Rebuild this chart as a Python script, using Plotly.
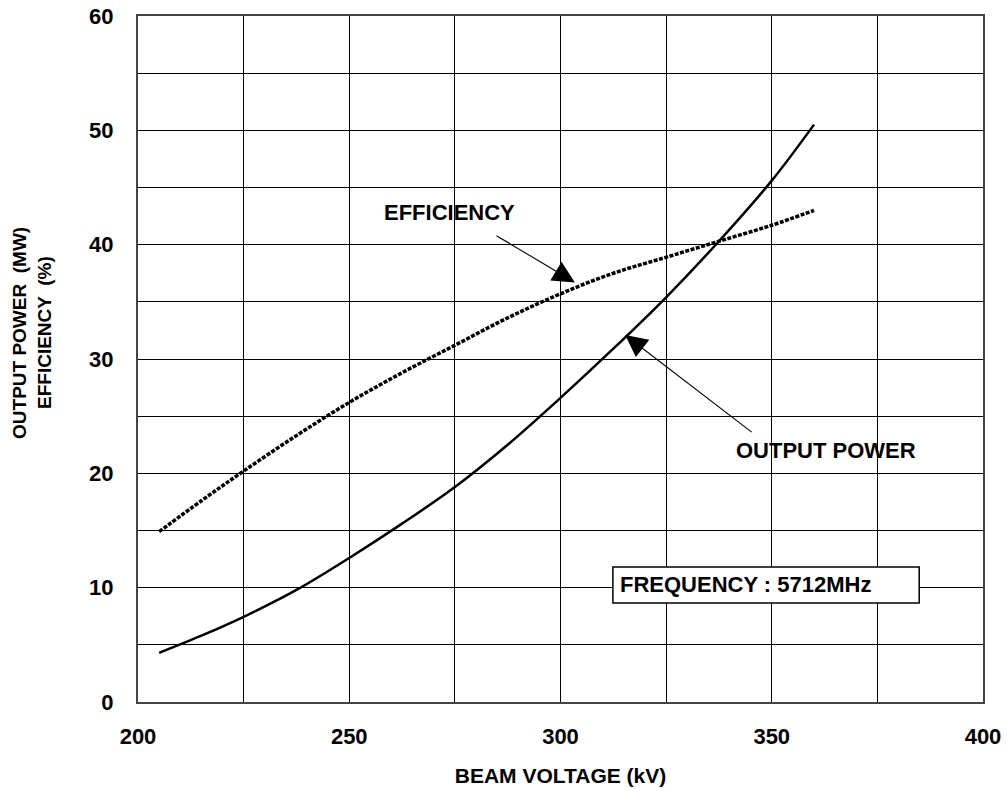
import plotly.graph_objects as go

# Beam voltage (kV)
voltage = [205, 215, 225, 237.5, 250, 262.5, 275, 287.5, 300, 312.5, 325, 337.5, 350, 360]
# Output power (MW)
output_power = [4.3, 5.8, 7.45, 9.8, 12.6, 15.6, 18.8, 22.5, 26.6, 30.9, 35.4, 40.3, 45.6, 50.5]
# Efficiency (%)
efficiency = [14.9, 17.6, 20.2, 23.3, 26.2, 28.8, 31.2, 33.6, 35.7, 37.5, 38.9, 40.3, 41.7, 43.0]

x_ticks = [200, 250, 300, 350, 400]
y_ticks = [0, 10, 20, 30, 40, 50, 60]

FONT = "Arial, Liberation Sans, sans-serif"

fig = go.Figure()
fig.add_trace(go.Scatter(x=voltage, y=efficiency, mode="lines", name="EFFICIENCY",
                         line=dict(color="black", width=3.5, dash="4px,1.5px", shape="spline", smoothing=1)))
fig.add_trace(go.Scatter(x=voltage, y=output_power, mode="lines", name="OUTPUT POWER",
                         line=dict(color="black", width=2.5, shape="spline", smoothing=1)))

axis_common = dict(showline=True, linecolor="#444", linewidth=2, mirror=True,
                   showgrid=True, gridcolor="black", gridwidth=1, zeroline=False, automargin=False,
                   ticks="", ticklabeloverflow="allow",
                   tickfont=dict(family=FONT, size=22, color="black", weight="bold"))

fig.update_xaxes(range=[200, 400], tickvals=x_ticks, ticktext=[str(v) for v in x_ticks],
                 minor=dict(dtick=25, tick0=200, showgrid=True, gridcolor="black", gridwidth=1),
                 ticklabelstandoff=14,
                 title=dict(text="BEAM VOLTAGE (kV)", font=dict(family=FONT, size=21, color="black", weight="bold"),
                            standoff=20),
                 **axis_common)
fig.update_yaxes(range=[0, 60], tickvals=y_ticks, ticktext=[str(v) for v in y_ticks],
                 minor=dict(dtick=5, tick0=0, showgrid=True, gridcolor="black", gridwidth=1),
                 ticklabelstandoff=18,
                 **axis_common)

annots = []
# Y-axis title (two lines)
annots.append(dict(xref="paper", yref="paper", x=-0.1396, y=0.538, text="OUTPUT POWER  (MW)",
                   textangle=-90, showarrow=False, xanchor="center", yanchor="middle",
                   font=dict(family=FONT, size=19, color="black", weight="bold")))
annots.append(dict(xref="paper", yref="paper", x=-0.110, y=0.538, text="EFFICIENCY  (%)",
                   textangle=-90, showarrow=False, xanchor="center", yanchor="middle",
                   font=dict(family=FONT, size=19, color="black", weight="bold")))
# Labels
annots.append(dict(x=273.8, y=42.8, text="EFFICIENCY", showarrow=False,
                   font=dict(family=FONT, size=22, color="black", weight="bold")))
annots.append(dict(x=362.8, y=22.0, text="OUTPUT POWER", showarrow=False,
                   font=dict(family=FONT, size=22, color="black", weight="bold")))
# Arrows
annots.append(dict(x=303.4, y=36.7, ax=284.5, ay=40.86, axref="x", ayref="y", text="",
                   showarrow=True, arrowhead=2, arrowsize=4, arrowwidth=1.1, arrowcolor="black"))
annots.append(dict(x=315.3, y=32.1, ax=345.6, ay=23.5, axref="x", ayref="y", text="",
                   showarrow=True, arrowhead=2, arrowsize=4, arrowwidth=1.1, arrowcolor="black"))
# Frequency box text
annots.append(dict(x=313.6, y=10.24, text="FREQUENCY : 5712MHz", showarrow=False,
                   xanchor="left", yanchor="middle",
                   font=dict(family=FONT, size=22, color="black", weight="bold")))

fig.update_layout(
    width=1007, height=791,
    margin=dict(l=138, r=24, t=16, b=89),
    plot_bgcolor="white", paper_bgcolor="white",
    showlegend=False,
    annotations=annots,
    shapes=[dict(type="rect", xref="x", yref="y", x0=312.4, x1=384.9, y0=8.66, y1=11.81,
                 line=dict(color="black", width=1.5), fillcolor="white", layer="above")],
)

# Remove the default 8px page margin so the figure fills the window exactly.
fig.write_html("out.html", config={"displayModeBar": False},
               post_script="document.body.style.margin='0px';document.body.style.overflow='hidden';")
